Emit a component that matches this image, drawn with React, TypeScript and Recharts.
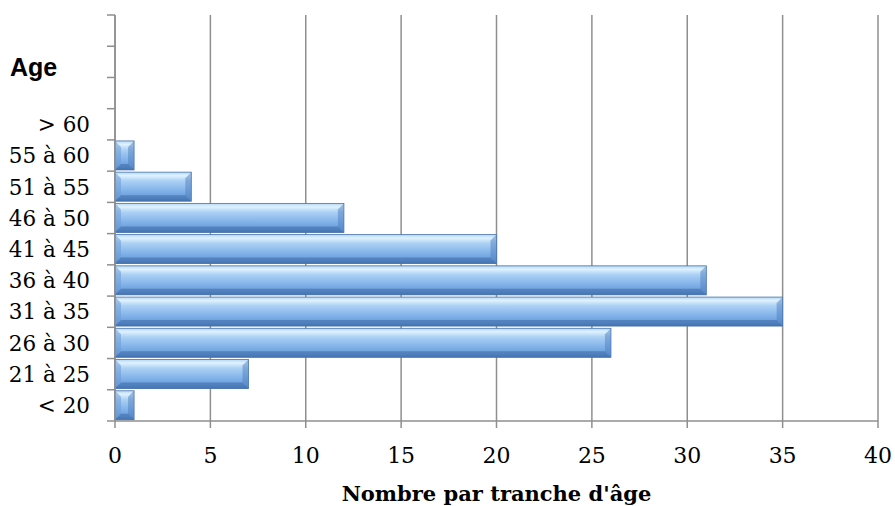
import { BarChart, Bar, XAxis, YAxis, CartesianGrid } from "recharts";

// bottom to top, as in the picture (three empty slots above "> 60")
const ageBands = ["< 20", "21 à 25", "26 à 30", "31 à 35", "36 à 40", "41 à 45", "46 à 50", "51 à 55", "55 à 60", "> 60", "", "", ""];
const counts = [1, 7, 26, 35, 31, 20, 12, 4, 1, 0, 0, 0, 0];
const xTicks = [0, 5, 10, 15, 20, 25, 30, 35, 40];

const data = ageBands.map((age, i) => ({ age, key: `${i}`, count: counts[i] }));

const W = 895;
const H = 506;
const TOP = 15;
const BOTTOM = 421;
const AXIS_X = 115;
const BAND = (BOTTOM - TOP) / ageBands.length;
const GRID = "#8f8f8f";
const SERIF = "'DejaVu Serif', 'Liberation Serif', serif";

function AgeTick(props: any) {
  const { x, y, payload, index } = props;
  const label = ageBands[Number(payload.value)];
  return (
    <g>
      <line x1={AXIS_X - 8} x2={AXIS_X} y1={y + BAND / 2} y2={y + BAND / 2} stroke={GRID} strokeWidth={1.5} />
      {index === ageBands.length - 1 && (
        <line x1={AXIS_X - 8} x2={AXIS_X} y1={y - BAND / 2} y2={y - BAND / 2} stroke={GRID} strokeWidth={1.5} />
      )}
      <text x={x - 25} y={y} dy="0.36em" textAnchor="end" fontFamily={SERIF} fontSize={21.5} fill="#000">
        {label}
      </text>
    </g>
  );
}

function CountTick(props: any) {
  const { x, y, payload } = props;
  return (
    <text x={x} y={y} dy="0.72em" textAnchor="middle" fontFamily={SERIF} fontSize={22} fill="#000">
      {payload.value}
    </text>
  );
}

function BevelBar(props: any) {
  const { x, y, width, height } = props;
  if (!width || width <= 0) return null;
  const b = Math.min(6, width / 2);
  return (
    <g>
      <rect x={x} y={y} width={width} height={height} fill="url(#barFill)" stroke="#4a74aa" strokeWidth={0.8} />
      <polygon points={`${x},${y} ${x + b},${y + b} ${x + b},${y + height - b} ${x},${y + height}`} fill="#6b9bd6" opacity={0.55} />
      <polygon points={`${x + width},${y} ${x + width - b},${y + b} ${x + width - b},${y + height - b} ${x + width},${y + height}`} fill="#4f80c0" opacity={0.5} />
      <polygon points={`${x},${y + height} ${x + b},${y + height - b} ${x + width - b},${y + height - b} ${x + width},${y + height}`} fill="#3d6aa5" opacity={0.55} />
    </g>
  );
}

export default function App() {
  return (
    <div style={{ position: "absolute", left: 0, top: 0, width: W, height: H, background: "#fff" }}>
      <BarChart
        width={W}
        height={H}
        data={data}
        layout="vertical"
        barCategoryGap={1}
        margin={{ top: TOP, right: W - 878, bottom: 0, left: 0 }}
      >
        <defs>
          <linearGradient id="barFill" x1="0" y1="0" x2="0" y2="1">
            <stop offset="0%" stopColor="#b5d7f6" />
            <stop offset="12%" stopColor="#dff2ff" />
            <stop offset="30%" stopColor="#acd1f4" />
            <stop offset="60%" stopColor="#86b6ea" />
            <stop offset="88%" stopColor="#689bda" />
            <stop offset="100%" stopColor="#4f7fc0" />
          </linearGradient>
        </defs>
        <CartesianGrid horizontal={false} stroke={GRID} strokeWidth={1.5} />
        <XAxis
          type="number"
          domain={[0, 40]}
          ticks={xTicks}
          interval={0}
          height={H - BOTTOM}
          axisLine={{ stroke: GRID, strokeWidth: 1.5 }}
          tickLine={{ stroke: GRID, strokeWidth: 1.5 }}
          tickSize={7}
          tickMargin={19}
          tick={<CountTick />}
          label={{
            value: "Nombre par tranche d'âge",
            position: "insideBottom",
            offset: 5,
            style: { fontFamily: SERIF, fontSize: 21, fontWeight: "bold", fill: "#000" },
          }}
        />
        <YAxis
          type="category"
          dataKey="key"
          reversed
          width={AXIS_X}
          interval={0}
          tickSize={0}
          tickMargin={0}
          tickLine={false}
          axisLine={{ stroke: GRID, strokeWidth: 1.5 }}
          tick={<AgeTick />}
          label={{
            value: "Age",
            content: () => (
              <text x={10} y={76} fontFamily="'Liberation Sans', Arial, sans-serif" fontSize={25} fontWeight="bold" fill="#000">
                Age
              </text>
            ),
          }}
        />
        <Bar dataKey="count" shape={<BevelBar />} isAnimationActive={false} />
      </BarChart>
    </div>
  );
}
